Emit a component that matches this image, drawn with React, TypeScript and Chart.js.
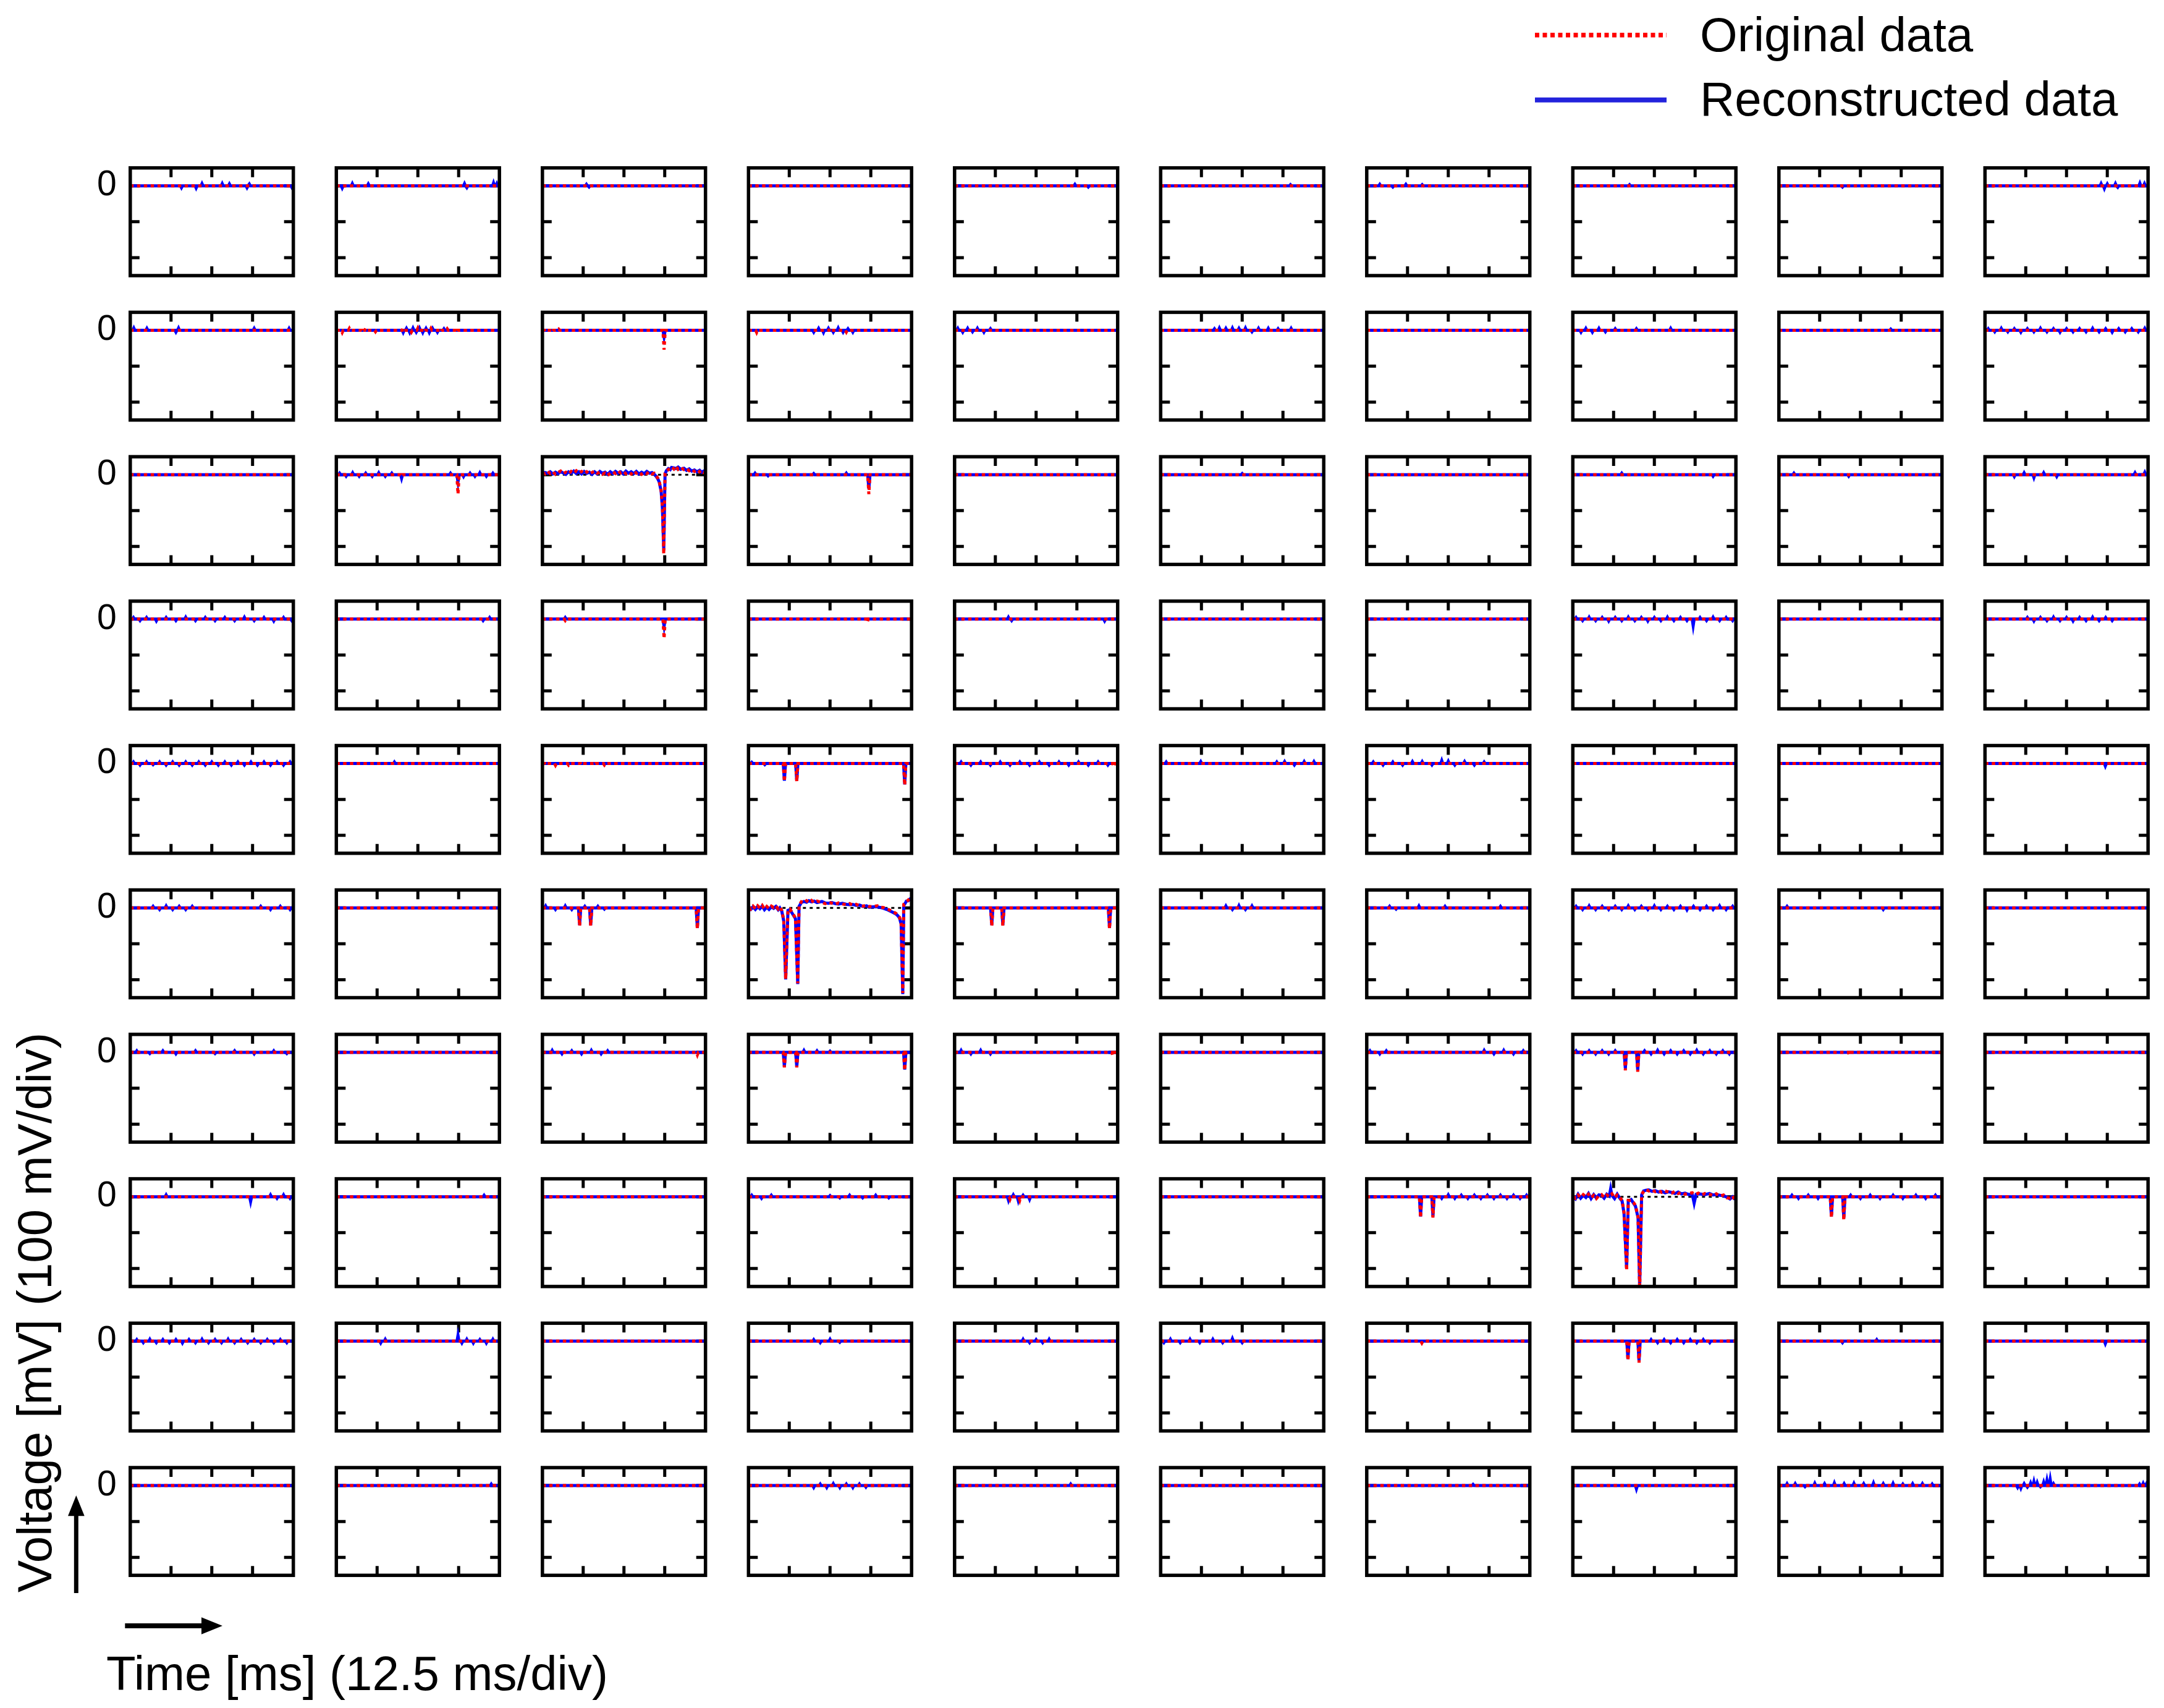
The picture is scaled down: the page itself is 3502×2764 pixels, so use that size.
import React, { useEffect, useRef } from 'react';
import { Chart, registerables } from 'chart.js';

Chart.register(...registerables);

// ---------------- data ----------------
const N_ROWS = 10;
const N_COLS = 10;
const TIME_MIN_MS = 0;
const TIME_MAX_MS = 50;
const VOLT_MIN_MV = -250;
const VOLT_MAX_MV = 50;
const X_TICKS_MS = [12.5, 25, 37.5];
const Y_TICKS_MV = [-200, -100, 0];
const ZERO_LINE = [[0, 0], [50, 0]];

const LEGEND_LABELS = ['Original data', 'Reconstructed data'];
const Y_TITLE = 'Voltage [mV] (100 mV/div)';
const X_TITLE = 'Time [ms] (12.5 ms/div)';

// Large-spike panels: [t ms, mV]
const WAVE_R2C2_ORIG = [[0,6],[0.8,2],[1.6,9],[2.4,3],[3.2,8],[4,1],[4.8,6],[5.6,10],[6.4,3],[7.2,7],[8,2],[8.8,9],[9.6,4],[10.4,11],[11.2,5],[12,9],[12.8,3],[13.6,8],[14.4,2],[15.2,6],[16,10],[16.8,4],[17.6,7],[18.4,1],[19.2,5],[20,-2],[20.8,4],[21.6,8],[22.4,3],[23.2,10],[24,5],[24.8,9],[25.6,3],[26.4,7],[27.2,2],[28,10],[28.8,4],[29.6,8],[30.4,1],[31.2,6],[32,3],[32.8,8],[33.6,2],[34.3,4],[34.9,-3],[35.4,-10],[35.8,-18],[36.4,-44],[36.8,-90],[37.2,-221],[37.6,4],[38,9],[38.6,14],[39.2,18],[39.6,22],[40.3,16],[40.9,24],[41.6,15],[42.4,20],[43.4,14],[44.2,17],[45,11],[45.8,15],[46.6,9],[47.4,14],[48.2,8],[48.8,12],[49.4,6],[50,8]];
const WAVE_R2C2_RECON = [[0,3],[0.8,6],[1.6,4],[2.4,8],[3.2,2],[4,7],[4.8,3],[5.6,8],[6.4,5],[7.2,1],[8,8],[8.8,4],[9.6,10],[10.4,3],[11.2,8],[12,2],[12.8,9],[13.6,4],[14.4,7],[15.2,1],[16,8],[16.8,2],[17.6,9],[18.4,4],[19.2,7],[20,1],[20.8,8],[21.6,3],[22.4,9],[23.2,4],[24,8],[24.8,2],[25.6,10],[26.4,4],[27.2,8],[28,3],[28.8,9],[29.6,2],[30.4,7],[31.2,3],[32,9],[32.8,4],[33.6,6],[34.3,1],[34.9,-5],[35.4,-12],[35.8,-20],[36.4,-46],[36.8,-95],[37.2,-210],[37.6,2],[38,11],[38.6,17],[39.2,14],[39.6,20],[40.3,19],[40.9,17],[41.6,21],[42.4,15],[43.4,18],[44.2,12],[45,16],[45.8,10],[46.6,13],[47.4,8],[48.2,12],[48.8,7],[49.4,10],[50,6]];

const WAVE_R5C3_ORIG = [[0,3],[0.7,-3],[1.4,5],[2.1,-2],[2.8,6],[3.5,0],[4.2,7],[4.9,-3],[5.6,4],[6.3,-2],[7,5],[7.7,1],[8.4,6],[9.1,-3],[9.6,2],[10.2,-7],[10.8,-33],[11.4,-198],[12.1,-5],[12.7,-3],[13.6,-16],[14.4,-28],[15.1,-210],[15.5,7],[16.2,17],[17,14],[17.8,20],[18.5,16],[19.3,21],[20.1,15],[21,19],[22.5,15],[23.5,12],[24.5,16],[25.6,13],[26.6,10],[27.6,14],[28.8,11],[30,9],[31,12],[31.9,8],[33,10],[34,6],[35.1,5],[36.2,8],[37,4],[38.3,4],[39.5,6],[40.5,2],[41.4,1],[42.3,-2],[43.3,-6],[44.2,-10],[45.2,-15],[45.8,-20],[46.3,-26],[46.8,-42],[47.3,-237],[47.6,10],[48,14],[48.4,17],[49,22],[49.5,27],[50,28]];
const WAVE_R5C3_RECON = [[0,1],[0.7,-4],[1.4,3],[2.1,-4],[2.8,4],[3.5,-2],[4.2,5],[4.9,-5],[5.6,2],[6.3,-4],[7,3],[7.7,-1],[8.4,4],[9.1,-5],[9.6,0],[10.2,-9],[10.8,-36],[11.4,-199],[12.1,-7],[12.7,-5],[13.6,-18],[14.4,-30],[15.1,-212],[15.5,4],[16.2,15],[17,18],[17.8,16],[18.5,20],[19.3,17],[20.1,19],[21,15],[22.5,18],[23.5,14],[24.5,13],[25.6,15],[26.6,12],[27.6,11],[28.8,13],[30,10],[31,9],[31.9,10],[33,7],[34,8],[35.1,4],[36.2,6],[37,2],[38.3,3],[39.5,3],[40.5,1],[41.4,-1],[42.3,-4],[43.3,-8],[44.2,-12],[45.2,-17],[45.8,-22],[46.3,-28],[46.8,-45],[47.3,-240],[47.6,7],[48,12],[48.4,19],[49,20],[49.5,25],[50,26]];

const WAVE_R7C7_ORIG = [[0,2],[0.8,-4],[1.6,5],[2.4,-2],[3.2,6],[4,0],[4.8,7],[5.6,-3],[6.4,4],[7.2,-5],[8,3],[8.8,6],[9.6,-2],[10.4,5],[11.2,0],[12,8],[12.8,-3],[13.6,5],[14.3,-1],[15.1,-10],[15.7,-44],[16.5,-205],[17,-10],[17.9,-10],[18.6,-16],[19.2,-24],[20,-56],[20.5,-258],[21.1,7],[21.7,14],[22.4,20],[23.3,16],[24.3,19],[25.3,14],[26.3,17],[27.3,12],[28.3,16],[29.3,13],[30.3,10],[31.3,15],[32.3,9],[33.3,12],[34.4,7],[35.6,9],[36.6,11],[37.5,6],[38.5,10],[39.5,5],[40.5,9],[41.9,7],[43,3],[44,8],[45.1,2],[46.2,5],[47.2,-3],[48.2,-4],[49,2],[49.5,-7],[50,-5]];
const WAVE_R7C7_RECON = [[0,0],[0.8,-6],[1.6,7],[2.4,-4],[3.2,4],[4,-2],[4.8,9],[5.6,-5],[6.4,6],[7.2,-3],[8,5],[8.8,4],[9.6,-4],[10.4,7],[11.2,2],[11.6,22],[12,4],[12.8,-5],[13.6,7],[14.3,-3],[15.1,-12],[15.7,-46],[16.5,-200],[17,-12],[17.9,-8],[18.6,-18],[19.2,-26],[20,-58],[20.5,-250],[21.1,5],[21.7,16],[22.4,18],[23.3,19],[24.3,15],[25.3,17],[26.3,13],[27.3,15],[28.3,11],[29.3,14],[30.3,12],[31.3,9],[32.3,13],[33.3,8],[34.4,10],[35.6,6],[36.6,8],[37.2,-18],[37.8,7],[38.5,8],[39.5,7],[40.5,6],[41.9,9],[43,5],[44,6],[45.1,4],[46.2,3],[47.2,-1],[48.2,-6],[49,0],[49.5,-5],[50,-3]];

// Narrow spikes: [row, col, t ms, original mV, reconstructed mV]
const SPIKE_DIPS = [
  [1,2,37.3,-54,-18],
  [2,1,37.3,-54,-20],
  [2,3,36.9,-54,-40],
  [3,2,37.3,-54,-20],
  [4,3,11.0,-50,-48],[4,3,14.8,-50,-48],[4,3,47.9,-60,-58],
  [5,2,11.4,-50,-48],[5,2,14.8,-50,-48],[5,2,47.5,-58,-56],
  [5,4,11.4,-50,-48],[5,4,14.8,-50,-48],[5,4,47.5,-58,-56],
  [6,3,11.0,-42,-40],[6,3,14.8,-42,-40],[6,3,47.9,-50,-48],
  [6,7,16.1,-50,-45],[6,7,19.9,-54,-50],
  [7,6,16.5,-58,-55],[7,6,20.3,-58,-55],
  [7,8,16.1,-58,-55],[7,8,19.9,-65,-60],
  [8,7,16.9,-54,-50],[8,7,20.3,-60,-56],
];

// Small noise blips of the original trace: [row, col, [[t ms, mV], ...]]
const ORIG_NOISE = [
  [1,1,[[1.8,-6],[4,5],[8,-5],[9,5],[12,-4],[20.5,6],[23,-5],[25,6],[27,-5],[29,5],[32,-5],[34,4],[37,-6]]],
  [1,2,[[1,-4],[3,-5],[5,3]]],
  [1,3,[[2.5,-6],[25,5],[30,-5]]],
  [2,1,[[20,-5]]],
  [3,2,[[7,-4]]],
  [3,3,[[36.4,-9]]],
  [4,2,[[1,-4],[4,-5],[8,-4],[12,-4],[16,-4],[19,-4]]],
  [4,4,[[48.8,-9]]],
  [6,2,[[47.5,-7]]],
  [6,4,[[48.5,-9]]],
  [6,8,[[21.6,-7]]],
  [7,4,[[17,-7],[20,-9]]],
  [8,6,[[16.9,-5]]],
];

// Small noise blips of the reconstructed trace
const RECON_NOISE = [
  [0,0,[[15.7,-5],[20.2,-6],[22,6],[28.2,6],[30.4,5],[35.8,-5],[36.5,5],[49.6,-5]]],
  [0,1,[[1.8,-6],[4.9,6],[9.8,5],[39.3,6],[40,-5],[48.2,8],[49.2,6]]],
  [0,2,[[13.5,4],[14.3,-3]]],
  [0,4,[[36.9,4],[41,-3]]],
  [0,5,[[39.8,3]]],
  [0,6,[[4,4],[8,-3],[12,4],[17,3]]],
  [0,7,[[17.4,3]]],
  [0,8,[[19.5,-3]]],
  [0,9,[[35.6,6],[36.6,-7],[37.5,5],[40,6],[40.7,-4],[47.5,7],[48.9,6]]],
  [1,0,[[1.1,6],[5.1,5],[14,-5],[14.8,6],[38,5],[48.7,5]]],
  [1,1,[[20.5,-6],[21.5,5],[22.5,-6],[23.5,6],[24.5,-5],[25.5,6],[26.5,-6],[27.5,5],[28.5,-6],[29.5,5],[31,-5],[33,4]]],
  [1,3,[[20,-5],[21.5,5],[23,-6],[24.5,5],[26,-5],[27.5,6],[29,-5],[30.5,4],[32,-5]]],
  [1,4,[[1,5],[2.5,-5],[4,5],[5.5,-4],[7,5],[9,-5],[11,4]]],
  [1,5,[[16.5,4],[18,6],[20,5],[22,6],[24,5],[26,6],[28,-4],[30,5],[33,5],[36,4],[40,5]]],
  [1,7,[[2.5,-5],[4,5],[6,-5],[8,5],[10,-4],[13,4],[19.5,4],[30,5]]],
  [1,8,[[34.3,3]]],
  [1,9,[[1,4],[3,-4],[5,5],[7,-4],[9,4],[11,-5],[13,4],[15,-4],[17,5],[19,-4],[21,4],[23,-5],[25,4],[27,-4],[29,4],[31,-4],[33,5],[35,-4],[37,4],[39,-5],[41,4],[43,-4],[45,4],[47,-4],[49,5]]],
  [2,1,[[1,4],[3,-4],[5,5],[7,-4],[9,4],[11,-4],[13,5],[15,-4],[17,4],[20,-10],[35,4],[39,-5],[41,4],[42.5,-4],[44,5],[46,-4],[48,4]]],
  [2,3,[[2,4],[6,-3],[20,3],[30,4]]],
  [2,5,[[25,3]]],
  [2,7,[[15,4],[43,-4]]],
  [2,8,[[4.6,4],[21.4,-4]]],
  [2,9,[[9,-5],[12,5],[15,-8],[18,5],[22,-5],[46,5],[49,6]]],
  [3,0,[[1,4],[3,-4],[5,4],[8,-5],[11,4],[14,-4],[17,5],[20,-4],[23,4],[26,-4],[29,4],[32,-4],[35,5],[38,-4],[41,4],[44,-5],[47,4],[49.5,-4]]],
  [3,1,[[45,-4],[47,4]]],
  [3,2,[[7,4]]],
  [3,4,[[16.5,5],[17.5,-4],[46,-5]]],
  [3,7,[[1,4],[3,-4],[5,5],[7,-4],[9,4],[11,-5],[13,4],[15,-4],[17,5],[19,-4],[21,4],[23,-5],[25,4],[27,-4],[29,5],[31,-4],[33,4],[35,-4],[36.9,-18],[39,4],[41,-4],[43,5],[45,-4],[47,4],[49,-4]]],
  [3,9,[[13,4],[15,-5],[17,4],[19,-4],[21,5],[23,-4],[25,4],[27,-5],[29,4],[31,-4],[33,5],[35,-4],[37,4],[39,-4]]],
  [4,0,[[1,4],[3,-4],[5,4],[7,-3],[9,4],[11,-4],[13,4],[15,-4],[17,4],[19,-4],[21,4],[23,-4],[25,4],[27,-4],[29,4],[31,-4],[33,4],[35,-4],[37,4],[39,-4],[41,4],[43,-4],[45,4],[47,-4],[49,4]]],
  [4,1,[[17.8,4]]],
  [4,3,[[1,3],[5,-3]]],
  [4,4,[[2,4],[5,-4],[8,4],[11,-4],[14,4],[17,-4],[20,4],[23,-4],[26,4],[29,-4],[32,4],[35,-4],[38,4],[41,-4],[44,4],[47,-4]]],
  [4,5,[[1.7,4],[12.3,5],[35.6,4],[38,5],[41,-4],[44,5],[47,5]]],
  [4,6,[[2,4],[5,-4],[8,4],[11,-4],[14,5],[17,5],[20,-4],[23,8],[25,6],[27,-4],[30,5],[33,-4],[36,4]]],
  [4,9,[[36.9,-7]]],
  [5,0,[[7,4],[9,-4],[11,5],[13,-4],[15,4],[17,-4],[19,4],[40,4],[43,-4],[46,4],[49,-4]]],
  [5,2,[[1,5],[4,-4],[7,5],[9,-4],[13,4],[17,4],[19,-3]]],
  [5,5,[[20,5],[22,-4],[24,6],[26,-4],[28,5]]],
  [5,6,[[7,4],[9,-3],[16,5],[24,4],[41,4]]],
  [5,7,[[1,4],[3,-4],[5,5],[7,-4],[9,4],[11,-4],[13,4],[15,-4],[17,5],[19,-4],[21,4],[23,-4],[25,5],[27,-4],[29,4],[31,-4],[33,4],[35,-5],[37,4],[39,-4],[41,4],[43,-4],[45,5],[47,-4],[49,4]]],
  [5,8,[[2.5,4],[32,-4]]],
  [6,0,[[2,4],[6,-3],[10,4],[14,-4],[20,4],[26,-3],[32,4],[38,-4],[44,4],[48,-3]]],
  [6,2,[[3,5],[6,-4],[9,4],[12,-4],[15,5],[18,-4],[20,4]]],
  [6,3,[[17,5],[21,4],[25,3]]],
  [6,4,[[2,5],[5,-4],[8,5],[11,-4]]],
  [6,6,[[1,4],[4,-4],[6,4],[36,5],[39,-4],[42,5],[45,-4],[48,4]]],
  [6,7,[[1,4],[3,-4],[5,4],[7,-4],[9,4],[11,-4],[13,4],[22,4],[24,-4],[26,5],[28,-4],[30,4],[32,-4],[34,4],[36,-4],[38,5],[40,-4],[42,4],[44,-4],[46,4],[48,-4]]],
  [7,0,[[11,5],[36.9,-13],[43,5],[45,-4],[47,5],[49,-4]]],
  [7,1,[[45.3,4]]],
  [7,3,[[1,4],[4,-4],[7,4],[25,3],[28,-3],[31,4],[35,-3],[39,4],[43,-3]]],
  [7,4,[[16.5,-9],[18,5],[19.5,-10],[21,4],[23,-7]]],
  [7,6,[[23,-4],[25,5],[27,-4],[29,4],[31,-4],[33,4],[35,-4],[37,4],[39,-4],[41,4],[43,-4],[45,4],[47,-4],[49,4]]],
  [7,8,[[4,4],[6,-4],[9,4],[12,-4],[22,4],[25,-4],[28,4],[31,-4],[35,4],[38,-4],[42,4],[45,-4],[48,4]]],
  [8,0,[[2,4],[4,-4],[6,5],[8,-4],[10,4],[12,-4],[14,4],[16,-5],[18,4],[20,-4],[22,5],[24,-4],[26,4],[28,-4],[30,5],[32,-4],[34,4],[36,-4],[38,4],[40,-4],[42,4],[44,-4],[46,4],[48,-4]]],
  [8,1,[[13.6,-5],[15,5],[37.3,16],[38.5,-5],[40,5],[42,-5],[44,4],[46,-5],[48,5]]],
  [8,3,[[20,4],[22,-4],[25,5],[28,-3]]],
  [8,4,[[21,5],[23,-4],[25,4],[27,-4],[29,5]]],
  [8,5,[[1,-4],[3,5],[6,-4],[9,5],[12,-4],[16,5],[19,-4],[22,7],[25,-4]]],
  [8,7,[[24,4],[26,-4],[28,4],[30,-4],[32,4],[34,-4],[36,4],[38,-4],[40,4],[42,-4]]],
  [8,8,[[19.5,-4],[30,4]]],
  [8,9,[[36.9,-7]]],
  [9,1,[[47.5,4]]],
  [9,3,[[20,-5],[22,4],[24,-5],[26,5],[28,-5],[30,4],[32,-5],[34,4],[36,-4]]],
  [9,4,[[35.6,4]]],
  [9,6,[[32.6,3]]],
  [9,7,[[19.5,-9]]],
  [9,8,[[2.5,5],[5,5],[8,-3],[11,6],[14,5],[17,7],[20,5],[23,6],[26,5],[29,7],[32,5],[35,6],[38,4],[41,5],[44,5],[47,4]]],
  [9,9,[[10,-5],[11,-7],[12,5],[13,-4],[14,7],[15,11],[16,8],[17,-3],[18,9],[19,14],[20,17],[21,5],[47.4,4],[48.5,6],[49.5,5]]],
];

const BIG_WAVES = [
  { row: 2, col: 2, orig: WAVE_R2C2_ORIG, recon: WAVE_R2C2_RECON },
  { row: 5, col: 3, orig: WAVE_R5C3_ORIG, recon: WAVE_R5C3_RECON },
  { row: 7, col: 7, orig: WAVE_R7C7_ORIG, recon: WAVE_R7C7_RECON },
];

// ---------------- layout (not data) ----------------
const FONT = "'Liberation Sans', Arial, Helvetica, sans-serif";
const FRAME_X0 = 210.8;
const FRAME_DX = 333.5;
const FRAME_Y0 = 271.7;
const FRAME_DY = 233.7;
const FRAME_W = 263.9;
const FRAME_H = 174.3;
const TICK_LEN = 15;

function buildTrace(row: number, col: number, which: 'orig' | 'recon') {
  const big = BIG_WAVES.find((w) => w.row === row && w.col === col);
  if (big) return big[which].map(([x, y]) => ({ x, y }));
  const pts: number[][] = [[TIME_MIN_MS, 0], [TIME_MAX_MS, 0]];
  const noise = which === 'orig' ? ORIG_NOISE : RECON_NOISE;
  for (const [r, c, list] of noise as any[]) {
    if (r !== row || c !== col) continue;
    for (const [t, v] of list) {
      pts.push([Math.max(TIME_MIN_MS, t - 0.3), 0], [t, v], [Math.min(TIME_MAX_MS, t + 0.3), 0]);
    }
  }
  for (const [r, c, t, vo, vr] of SPIKE_DIPS) {
    if (r !== row || c !== col) continue;
    const v = which === 'orig' ? vo : vr;
    pts.push([t - 0.35, 0], [t, v], [t + 0.35, 0]);
  }
  pts.sort((a, b) => a[0] - b[0]);
  return pts.map(([x, y]) => ({ x, y }));
}

const framePlugin = {
  id: 'panelFrame',
  beforeDatasetsDraw(chart: any) {
    const { ctx, chartArea, scales } = chart;
    const { left, right, top, bottom } = chartArea;
    ctx.save();
    ctx.strokeStyle = '#000';
    ctx.lineWidth = 5;
    ctx.lineCap = 'butt';
    ctx.beginPath();
    for (const t of X_TICKS_MS) {
      const px = scales.x.getPixelForValue(t);
      ctx.moveTo(px, top); ctx.lineTo(px, top + TICK_LEN);
      ctx.moveTo(px, bottom); ctx.lineTo(px, bottom - TICK_LEN);
    }
    for (const v of Y_TICKS_MV) {
      const py = scales.y.getPixelForValue(v);
      ctx.moveTo(left, py); ctx.lineTo(left + TICK_LEN, py);
      ctx.moveTo(right, py); ctx.lineTo(right - TICK_LEN, py);
    }
    ctx.stroke();
    ctx.restore();
  },
  afterDatasetsDraw(chart: any) {
    const { ctx, chartArea } = chart;
    const { left, right, top, bottom } = chartArea;
    ctx.save();
    ctx.strokeStyle = '#000';
    ctx.lineWidth = 5.5;
    ctx.lineJoin = 'miter';
    ctx.strokeRect(left, top, right - left, bottom - top);
    ctx.restore();
  },
};

function Panel({ row, col }: { row: number; col: number }) {
  const ref = useRef<HTMLCanvasElement>(null);
  const fl = FRAME_X0 + FRAME_DX * col;
  const ft = FRAME_Y0 + FRAME_DY * row;
  const extL = col === 0 ? 76 : 12;
  const extV = col === 0 ? 70 : 12;
  const cl = Math.floor(fl - extL);
  const ct = Math.floor(ft - extV);
  const cw = Math.ceil(fl + FRAME_W + 12) - cl;
  const ch = Math.ceil(ft + FRAME_H + extV) - ct;
  const padL = fl - cl;
  const padT = ft - ct;
  const padR = cw - (fl + FRAME_W - cl);
  const padB = ch - (ft + FRAME_H - ct);

  useEffect(() => {
    const canvas = ref.current;
    if (!canvas) return;
    const showLabel = col === 0;
    const chart = new Chart(canvas, {
      type: 'line',
      data: {
        datasets: [
          {
            label: LEGEND_LABELS[0],
            data: buildTrace(row, col, 'orig'),
            borderColor: '#FF0000',
            borderWidth: 5,
            borderDash: [5.5, 5.5],
            pointRadius: 0,
            tension: 0,
            fill: false,
            order: 0,
          },
          {
            label: LEGEND_LABELS[1],
            data: buildTrace(row, col, 'recon'),
            borderColor: '#0000FF',
            borderWidth: 5,
            pointRadius: 0,
            tension: 0,
            fill: false,
            order: 1,
          },
          {
            label: 'zero',
            data: ZERO_LINE.map(([x, y]) => ({ x, y })),
            borderColor: '#000000',
            borderWidth: 3,
            borderDash: [5, 6],
            pointRadius: 0,
            tension: 0,
            fill: false,
            order: 2,
          },
        ],
      } as any,
      options: {
        animation: false,
        responsive: false,
        devicePixelRatio: 1,
        events: [],
        layout: {
          padding: { left: showLabel ? 0 : padL, right: padR, top: padT, bottom: padB },
        },
        plugins: { legend: { display: false }, tooltip: { enabled: false } },
        scales: {
          x: { type: 'linear', min: TIME_MIN_MS, max: TIME_MAX_MS, display: false },
          y: {
            type: 'linear',
            min: VOLT_MIN_MV,
            max: VOLT_MAX_MV,
            display: showLabel,
            position: 'left',
            afterBuildTicks: (s: any) => {
              s.ticks = Y_TICKS_MV.map((v) => ({ value: v }));
            },
            afterFit: (s: any) => {
              s.width = showLabel ? padL : 0;
            },
            ticks: {
              callback: (v: any) => (v === 0 ? '0' : ''),
              padding: 22,
              color: '#000',
              font: { family: FONT, size: 57 },
            },
            grid: { display: false, drawTicks: false },
            border: { display: false },
          },
        },
      } as any,
      plugins: [framePlugin],
    });
    return () => chart.destroy();
  }, [row, col]);

  return (
    <canvas
      ref={ref}
      width={cw}
      height={ch}
      style={{ position: 'absolute', left: cl, top: ct, width: cw, height: ch }}
    />
  );
}

export default function App() {
  const panels = [];
  for (let r = 0; r < N_ROWS; r++) {
    for (let c = 0; c < N_COLS; c++) {
      panels.push(<Panel key={`${r}-${c}`} row={r} col={c} />);
    }
  }
  return (
    <div
      style={{
        position: 'absolute',
        left: 0,
        top: 0,
        width: 3502,
        height: 2764,
        background: '#ffffff',
        overflow: 'hidden',
      }}
    >
      {panels}
      <svg
        width={3502}
        height={2764}
        style={{ position: 'absolute', left: 0, top: 0, pointerEvents: 'none' }}
      >
        <line x1={2484} y1={56.8} x2={2697} y2={56.8} stroke="#FF0000" strokeWidth={7.5} strokeDasharray="7 5.5" />
        <line x1={2484} y1={161.7} x2={2697} y2={161.7} stroke="#2323DC" strokeWidth={8} />
        <text x={2751} y={82.5} fontFamily={FONT} fontSize={78} fill="#000">{LEGEND_LABELS[0]}</text>
        <text x={2751} y={187} fontFamily={FONT} fontSize={78} fill="#000">{LEGEND_LABELS[1]}</text>
        <text transform="translate(83.3 2577) rotate(-90)" fontFamily={FONT} fontSize={78} fill="#000">{Y_TITLE}</text>
        <text x={172} y={2735} fontFamily={FONT} fontSize={78} fill="#000">{X_TITLE}</text>
        <line x1={123.3} y1={2578} x2={123.3} y2={2450} stroke="#000" strokeWidth={7} />
        <polygon points="123.3,2420 110,2453.3 136.7,2453.3" fill="#000" />
        <line x1={202.3} y1={2631} x2={328} y2={2631} stroke="#000" strokeWidth={8} />
        <polygon points="360,2631 326,2617.3 326,2644.7" fill="#000" />
      </svg>
    </div>
  );
}
